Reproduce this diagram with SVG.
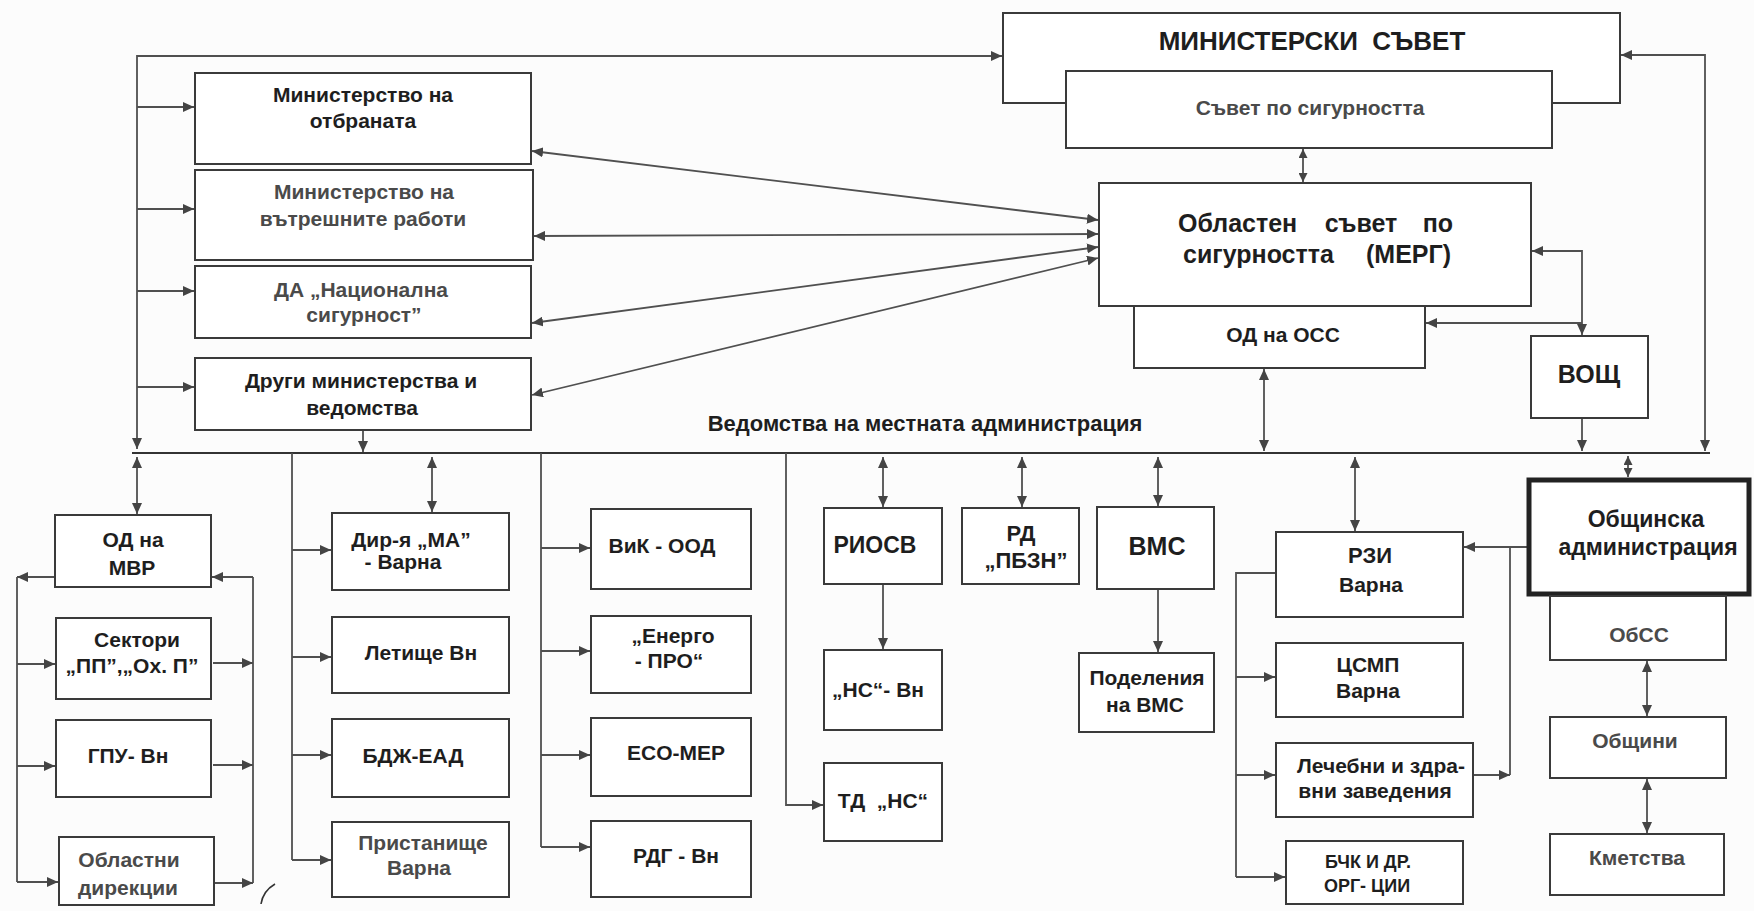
<svg xmlns="http://www.w3.org/2000/svg" width="1754" height="911" viewBox="0 0 1754 911">
<style>
.box{fill:#fff;stroke:#3a3a3a;stroke-width:2}
.thick{fill:#fff;stroke:#222;stroke-width:5}
.c{fill:none;stroke:#505050;stroke-width:1.8}
.t{font-family:"Liberation Sans",Arial,sans-serif;font-weight:bold;font-size:21px;fill:#1e1e1e;text-anchor:middle}
.g{fill:#4a4a4a}
</style>
<defs>
<marker id="a" markerUnits="userSpaceOnUse" markerWidth="12" markerHeight="10" refX="11" refY="5" orient="auto-start-reverse">
<path d="M0,0 L11,5 L0,10 Z" fill="#444"/>
</marker>
<marker id="s" markerUnits="userSpaceOnUse" markerWidth="10" markerHeight="9" refX="9" refY="4.5" orient="auto-start-reverse">
<path d="M0,0 L9,4.5 L0,9 Z" fill="#444"/>
</marker>
</defs>
<rect x="0" y="0" width="1754" height="911" fill="#fcfcfc"/>

<g id="connectors">
<path class="c" d="M137,449 V56 H1002" marker-start="url(#a)" marker-end="url(#a)"/>
<path class="c" d="M137,107 H194" marker-end="url(#a)"/>
<path class="c" d="M137,209 H194" marker-end="url(#a)"/>
<path class="c" d="M137,291 H194" marker-end="url(#a)"/>
<path class="c" d="M137,387 H194" marker-end="url(#a)"/>
<path class="c" d="M532,151 L1098,220" marker-start="url(#a)" marker-end="url(#a)"/>
<path class="c" d="M534,236 L1098,234" marker-start="url(#a)" marker-end="url(#a)"/>
<path class="c" d="M532,323 L1098,247" marker-start="url(#a)" marker-end="url(#a)"/>
<path class="c" d="M532,395 L1098,258" marker-start="url(#a)" marker-end="url(#a)"/>
<path class="c" d="M363,431 V452" marker-end="url(#a)"/>
<path class="c" d="M1303,149 V182" marker-start="url(#s)" marker-end="url(#s)"/>
<path class="c" d="M1621,55 H1705 V451" marker-start="url(#a)" marker-end="url(#a)"/>
<path class="c" d="M1532,251 H1582 V335" marker-start="url(#a)" marker-end="url(#a)"/>
<path class="c" d="M1582,323 H1426" marker-end="url(#a)"/>
<path class="c" d="M1582,419 V451" marker-end="url(#a)"/>
<path class="c" d="M1264,369 V451" marker-start="url(#a)" marker-end="url(#a)"/>
<path class="c" d="M132,453 H1710" style="stroke:#333;stroke-width:2"/>

<path class="c" d="M137,457 V514" marker-start="url(#a)" marker-end="url(#a)"/>
<path class="c" d="M54,577 H17" marker-end="url(#a)"/>
<path class="c" d="M17,577 V882"/>
<path class="c" d="M17,664 H55" marker-end="url(#a)"/>
<path class="c" d="M17,766 H55" marker-end="url(#a)"/>
<path class="c" d="M17,882 H58" marker-end="url(#a)"/>
<path class="c" d="M253,577 H212" marker-end="url(#a)"/>
<path class="c" d="M253,577 V883"/>
<path class="c" d="M213,663 H253" marker-end="url(#a)"/>
<path class="c" d="M213,765 H253" marker-end="url(#a)"/>
<path class="c" d="M215,883 H253" marker-end="url(#a)"/>

<path class="c" d="M292,453 V860"/>
<path class="c" d="M292,550 H331" marker-end="url(#a)"/>
<path class="c" d="M292,657 H331" marker-end="url(#a)"/>
<path class="c" d="M292,755 H331" marker-end="url(#a)"/>
<path class="c" d="M292,860 H331" marker-end="url(#a)"/>
<path class="c" d="M432,457 V512" marker-start="url(#a)" marker-end="url(#a)"/>

<path class="c" d="M541,453 V847"/>
<path class="c" d="M541,548 H590" marker-end="url(#a)"/>
<path class="c" d="M541,651 H590" marker-end="url(#a)"/>
<path class="c" d="M541,755 H590" marker-end="url(#a)"/>
<path class="c" d="M541,847 H590" marker-end="url(#a)"/>

<path class="c" d="M786,453 V805 H823" marker-end="url(#a)"/>
<path class="c" d="M883,457 V507" marker-start="url(#a)" marker-end="url(#a)"/>
<path class="c" d="M883,585 V649" marker-end="url(#a)"/>
<path class="c" d="M1022,457 V507" marker-start="url(#a)" marker-end="url(#a)"/>
<path class="c" d="M1158,457 V506" marker-start="url(#a)" marker-end="url(#a)"/>
<path class="c" d="M1158,590 V652" marker-end="url(#a)"/>

<path class="c" d="M1355,457 V531" marker-start="url(#a)" marker-end="url(#a)"/>
<path class="c" d="M1275,573 H1236 V877"/>
<path class="c" d="M1236,677 H1275" marker-end="url(#a)"/>
<path class="c" d="M1236,775 H1275" marker-end="url(#a)"/>
<path class="c" d="M1236,877 H1285" marker-end="url(#a)"/>
<path class="c" d="M1527,547 H1464" marker-end="url(#a)"/>
<path class="c" d="M1510,547 V775"/>
<path class="c" d="M1474,775 H1510" marker-end="url(#a)"/>
<path class="c" d="M1628,456 V477" marker-start="url(#s)" marker-end="url(#s)"/>
<path class="c" d="M1647,661 V716" marker-start="url(#a)" marker-end="url(#a)"/>
<path class="c" d="M1647,779 V833" marker-start="url(#a)" marker-end="url(#a)"/>
<path d="M261,904 Q263,891 275,884" fill="none" stroke="#333" stroke-width="1.6"/>
</g>

<text class="t" x="925" y="431" style="font-size:22px">Ведомства на местната администрация</text>

<g id="n-ms"><rect class="box" x="1003" y="13" width="617" height="90"/>
<text class="t" x="1312" y="50" style="font-size:26px" xml:space="preserve">МИНИСТЕРСКИ  СЪВЕТ</text></g>
<g id="n-ss"><rect class="box" x="1066" y="71" width="486" height="77"/>
<text class="t g" x="1310" y="115">Съвет по сигурността</text></g>
<g id="n-oss"><rect class="box" x="1099" y="183" width="432" height="123"/>
<text class="t" style="font-size:25px;text-anchor:start" x="1178" y="232">Областен</text>
<text class="t" style="font-size:25px" x="1361" y="232">съвет</text>
<text class="t" style="font-size:25px;text-anchor:end" x="1453" y="232">по</text>
<text class="t" style="font-size:25px;text-anchor:start" x="1183" y="263">сигурността</text>
<text class="t" style="font-size:25px;text-anchor:end" x="1451" y="263">(МЕРГ)</text></g>
<g id="n-odoss"><rect class="box" x="1134" y="306" width="291" height="62"/>
<text class="t" x="1283" y="342">ОД на ОСС</text></g>
<g id="n-vosh"><rect class="box" x="1531" y="336" width="117" height="82"/>
<text class="t" style="font-size:25px" x="1589" y="383">ВОЩ</text></g>

<g id="n-mo"><rect class="box" x="195" y="73" width="336" height="91"/>
<text class="t" x="363" y="102">Министерство на</text>
<text class="t" x="363" y="128">отбраната</text></g>
<g id="n-mvr"><rect class="box" x="195" y="170" width="338" height="90"/>
<text class="t g" x="364" y="199">Министерство на</text>
<text class="t g" x="363" y="226">вътрешните работи</text></g>
<g id="n-da"><rect class="box" x="195" y="266" width="336" height="72"/>
<text class="t g" x="361" y="297">ДА „Национална</text>
<text class="t g" x="364" y="322">сигурност”</text></g>
<g id="n-dr"><rect class="box" x="195" y="358" width="336" height="72"/>
<text class="t" x="361" y="388">Други министерства и</text>
<text class="t" x="362" y="415">ведомства</text></g>

<g id="n-odmvr"><rect class="box" x="55" y="515" width="156" height="72"/>
<text class="t" x="133" y="547">ОД на</text>
<text class="t" x="132" y="575">МВР</text></g>
<g id="n-sek"><rect class="box" x="56" y="618" width="155" height="81"/>
<text class="t" x="137" y="647">Сектори</text>
<text class="t" x="132" y="673">„ПП”,„Ох. П”</text></g>
<g id="n-gpu"><rect class="box" x="56" y="720" width="155" height="77"/>
<text class="t" x="128" y="763">ГПУ- Вн</text></g>
<g id="n-obd"><rect class="box" x="59" y="837" width="155" height="68"/>
<text class="t g" x="129" y="867">Областни</text>
<text class="t g" x="128" y="895">дирекции</text></g>

<g id="n-ma"><rect class="box" x="332" y="513" width="177" height="77"/>
<text class="t" x="411" y="547">Дир-я „МА”</text>
<text class="t" x="403" y="569">- Варна</text></g>
<g id="n-let"><rect class="box" x="332" y="617" width="177" height="76"/>
<text class="t" x="421" y="660">Летище Вн</text></g>
<g id="n-bdj"><rect class="box" x="332" y="719" width="177" height="78"/>
<text class="t" x="413" y="763">БДЖ-ЕАД</text></g>
<g id="n-pr"><rect class="box" x="332" y="822" width="177" height="75"/>
<text class="t g" x="423" y="850">Пристанище</text>
<text class="t g" x="419" y="875">Варна</text></g>

<g id="n-vik"><rect class="box" x="591" y="509" width="160" height="80"/>
<text class="t" x="662" y="553">ВиК - ООД</text></g>
<g id="n-en"><rect class="box" x="591" y="616" width="160" height="77"/>
<text class="t" x="673" y="643">„Енерго</text>
<text class="t" x="669" y="668">- ПРО“</text></g>
<g id="n-eco"><rect class="box" x="591" y="718" width="160" height="78"/>
<text class="t" x="676" y="760">ECO-MEP</text></g>
<g id="n-rdg"><rect class="box" x="591" y="821" width="160" height="76"/>
<text class="t" x="676" y="863">РДГ - Вн</text></g>

<g id="n-riosv"><rect class="box" x="824" y="508" width="118" height="76"/>
<text class="t" style="font-size:23px" x="875" y="553">РИОСВ</text></g>
<g id="n-nsvn"><rect class="box" x="824" y="650" width="118" height="80"/>
<text class="t" x="878" y="697">„НС“- Вн</text></g>
<g id="n-tdns"><rect class="box" x="824" y="763" width="118" height="78"/>
<text class="t" x="883" y="808" xml:space="preserve">ТД  „НС“</text></g>

<g id="n-rd"><rect class="box" x="962" y="508" width="117" height="76"/>
<text class="t" style="font-size:22px" x="1021" y="541">РД</text>
<text class="t" style="font-size:22px" x="1026" y="568">„ПБЗН”</text></g>
<g id="n-vms"><rect class="box" x="1097" y="507" width="117" height="82"/>
<text class="t" style="font-size:25px" x="1157" y="555">ВМС</text></g>
<g id="n-pod"><rect class="box" x="1079" y="653" width="135" height="79"/>
<text class="t" x="1147" y="685">Поделения</text>
<text class="t" x="1145" y="712">на ВМС</text></g>

<g id="n-rzi"><rect class="box" x="1276" y="532" width="187" height="85"/>
<text class="t" style="font-size:22px" x="1370" y="563">РЗИ</text>
<text class="t" x="1371" y="592">Варна</text></g>
<g id="n-csmp"><rect class="box" x="1276" y="643" width="187" height="74"/>
<text class="t" x="1368" y="672">ЦСМП</text>
<text class="t" x="1368" y="698">Варна</text></g>
<g id="n-lech"><rect class="box" x="1276" y="743" width="197" height="74"/>
<text class="t" x="1381" y="773">Лечебни и здра-</text>
<text class="t" x="1375" y="798">вни заведения</text></g>
<g id="n-bchk"><rect class="box" x="1286" y="841" width="177" height="63"/>
<text class="t" style="font-size:18px" x="1368" y="868">БЧК И ДР.</text>
<text class="t" style="font-size:18px" x="1367" y="892">ОРГ- ЦИИ</text></g>

<g id="n-obsh"><rect class="thick" x="1529" y="480" width="220" height="114"/>
<text class="t" style="font-size:23px" x="1646" y="527">Общинска</text>
<text class="t" style="font-size:23px" x="1648" y="555">администрация</text></g>
<g id="n-obss"><rect class="box" x="1550" y="596" width="176" height="64"/>
<text class="t g" x="1639" y="642">ОбСС</text></g>
<g id="n-obshtini"><rect class="box" x="1550" y="717" width="176" height="61"/>
<text class="t g" x="1635" y="748">Общини</text></g>
<g id="n-kmet"><rect class="box" x="1550" y="834" width="174" height="61"/>
<text class="t g" x="1637" y="865">Кметства</text></g>
</svg>
